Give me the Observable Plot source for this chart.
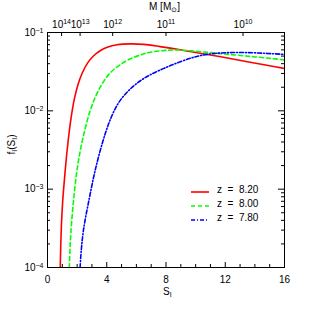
<!DOCTYPE html>
<html><head><meta charset="utf-8">
<script src="https://cdn.jsdelivr.net/npm/d3@7"></script>
<script src="https://cdn.jsdelivr.net/npm/@observablehq/plot@0.6"></script>
<style>
body{margin:0;background:#fff;}
#wrap{position:relative;width:315px;height:315px;font-family:"Liberation Sans",Arial,sans-serif;color:#000;}
.lbl{position:absolute;font-size:10px;white-space:pre;line-height:1;}
.lbl sub{font-size:7px;vertical-align:-2px;}
</style></head><body><div id="wrap"></div>
<script>
// z = 8.20 (red, solid)
const redS = [0.86, 0.9, 0.95, 1.02, 1.1, 1.25, 1.42, 1.6, 1.8, 2.05, 2.34, 2.7, 3.1, 3.58, 4.03, 4.7, 5.6, 6.5, 7.6, 8.3, 9.3, 10.3, 11.7, 13.4, 15.0, 16.0];
const redF = [1.0e-4, 2.09e-4, 3.80e-4, 6.76e-4, 1.07e-3, 2.24e-3, 4.57e-3, 8.32e-3, 0.0138, 0.0214, 0.0302, 0.0407, 0.0501, 0.0589, 0.0646, 0.0697, 0.0716, 0.0705, 0.0661, 0.0631, 0.0586, 0.0543, 0.0490, 0.0427, 0.0376, 0.0347];
// z = 8.00 (green, dashed)
const greenS = [1.47, 1.52, 1.58, 1.76, 2.03, 2.4, 2.95, 3.58, 4.26, 5.0, 5.6, 6.3, 6.96, 8.0, 9.0, 10.3, 11.7, 13.4, 15.0, 16.0];
const greenF = [1.0e-4, 1.74e-4, 2.82e-4, 7.24e-4, 1.95e-3, 4.57e-3, 0.01096, 0.0204, 0.0309, 0.0398, 0.0462, 0.0519, 0.0560, 0.0592, 0.0596, 0.0569, 0.0537, 0.0501, 0.0468, 0.0447];
// z = 7.80 (blue, dash-dot)
const blueS = [2.2, 2.28, 2.43, 2.82, 3.27, 3.9, 4.4, 4.91, 5.6, 6.3, 6.96, 8.3, 9.66, 10.3, 11.2, 12.5, 14.0, 16.0];
const blueF = [1.0e-4, 1.66e-4, 3.02e-4, 7.59e-4, 1.91e-3, 5.13e-3, 9.12e-3, 0.0136, 0.0191, 0.0244, 0.0290, 0.0378, 0.0470, 0.0506, 0.0538, 0.0555, 0.0550, 0.0525];

const zLabels = ["8.20", "8.00", "7.80"];
const xMajor = [0, 4, 8, 12, 16];
const xMinor = [1, 2, 3, 5, 6, 7, 9, 10, 11, 13, 14, 15];
const yMajor = [1e-4, 1e-3, 1e-2, 1e-1];
const yMinor = [1e-4, 1e-3, 1e-2].flatMap(d => [2,3,4,5,6,7,8,9].map(k => k * d));
const massTickS = [0.95, 2.2, 4.4, 8.0, 13.2];
const massTickLabels = ["10^14", "10^13", "10^12", "10^11", "10^10"];

const styles = [
  {color: "#ff0000", dash: null},
  {color: "#00ff00", dash: "4,3"},
  {color: "#0000ff", dash: "4,2,1,2"}
];
const seriesS = [redS, greenS, blueS];
const seriesF = [redF, greenF, blueF];

const W = 315, H = 315, mL = 47, mR = 31, mT = 32, mB = 48;
const pw = W - mL - mR, ph = H - mT - mB;

const lineMarks = seriesS.map((S, k) => Plot.line(S.map((x, i) => ({S: x, f: seriesF[k][i]})), {
  x: "S", y: "f", stroke: styles[k].color, strokeWidth: 1.6,
  strokeDasharray: styles[k].dash, curve: "catmull-rom", clip: true
}));

const chart = Plot.plot({
  width: W, height: H, marginLeft: mL, marginRight: mR, marginTop: mT, marginBottom: mB,
  style: {fontFamily: '"Liberation Sans", Arial, sans-serif', fontSize: "10px", background: "white", color: "black"},
  x: {domain: [0, 16]},
  y: {type: "log", domain: [1e-4, 1e-1]},
  marks: [
    ...lineMarks,
    Plot.tickX(xMajor, {x: d => d, insetTop: ph - 5, stroke: "black"}),
    Plot.tickX(xMinor, {x: d => d, insetTop: ph - 3, stroke: "black"}),
    Plot.tickX(massTickS, {x: d => d, insetBottom: ph - 4, stroke: "black"}),
    Plot.tickY(yMajor, {y: d => d, insetRight: pw - 6, stroke: "black"}),
    Plot.tickY(yMinor, {y: d => d, insetRight: pw - 3, stroke: "black"}),
    Plot.tickY(yMajor, {y: d => d, insetLeft: pw - 6, stroke: "black"}),
    Plot.tickY(yMinor, {y: d => d, insetLeft: pw - 3, stroke: "black"}),
    Plot.frame({stroke: "black", strokeWidth: 1}),
    Plot.axisX({anchor: "bottom", ticks: xMajor, tickSize: 0, tickPadding: 8, label: null, tickFormat: d3.format("d")}),
    Plot.axisY({anchor: "left", ticks: yMajor, tickSize: 0, tickPadding: 4, label: null,
      tickFormat: d => "10^" + Math.round(Math.log10(d))}),
    Plot.axisX({anchor: "top", ticks: massTickS, tickSize: 0, tickPadding: 5, label: null,
      tickFormat: d => massTickLabels[massTickS.indexOf(d)]})
  ]
});
chart.querySelectorAll("text").forEach(t => {
  const s = t.textContent;
  if (!s.includes("^")) return;
  const [base, exp] = s.split("^");
  const expText = exp.replace("-", "\u2212");
  while (t.firstChild) t.removeChild(t.firstChild);
  const ns = "http://www.w3.org/2000/svg";
  const a = document.createElementNS(ns, "tspan");
  a.textContent = base;
  const b = document.createElementNS(ns, "tspan");
  b.textContent = expText;
  b.setAttribute("font-size", "7");
  b.setAttribute("dy", "-0.45em");
  t.appendChild(a); t.appendChild(b);
});
const wrap = document.getElementById("wrap");
wrap.appendChild(chart);

function addLabel(html, left, top, extra) {
  const d = document.createElement("div");
  d.className = "lbl";
  d.innerHTML = html;
  d.style.left = left + "px";
  d.style.top = top + "px";
  if (extra) Object.assign(d.style, extra);
  wrap.appendChild(d);
  return d;
}
addLabel("M [M<sub>⊙</sub>]", 149, 2);
addLabel("S<sub>I</sub>", 163, 287);
addLabel("f<sub>I</sub>(S<sub>I</sub>)", -8, 139, {transform: "rotate(-90deg)", width: "40px", textAlign: "center"});

const legY = [190, 204, 218];
zLabels.forEach((z, k) => {
  const svg = `<svg width="20" height="6" style="vertical-align:middle;overflow:visible"><line x1="0" x2="18" y1="3" y2="3" stroke="${styles[k].color}" stroke-width="1.6" ${styles[k].dash ? `stroke-dasharray="${styles[k].dash}"` : ""}/></svg>`;
  addLabel(svg, 191, legY[k] - 3);
  addLabel("z  =  " + z, 217, legY[k] - 5);
});
</script></body></html>
